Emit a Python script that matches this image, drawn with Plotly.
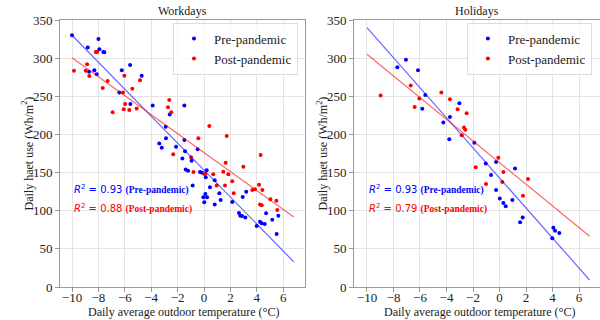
import plotly.graph_objects as go

# ---------------- data ----------------
wd_pre_t = [-10, -8.81, -8.0, -7.93, -7.63, -7.55, -8.71, -8.31, -8.13, -6.23, -5.6, -4.72, -6.42, -5.58,
            -3.89, -2.6, -2.9, -2.88, -3.39, -3.2, -2.12, -1.49, -1.49, -0.48, -1.44, -1.64, -0.94, -1.39,
            -1.21, -0.3, -0.15, 0.2, 0.13, 0.81, -0.86, 0.45, 0.1, 0.23, -0.05, 1.16, 1.26, 0.02, 0.81,
            2.14, 2.93, 3.2, 2.65, 2.75, 2.88, 3.13, 4.24, 4.37, 4.6, 3.99, 4.7, 5.17, 5.63, 5.5]
wd_pre_e = [330, 314, 325, 311.5, 308, 307.6, 282, 284, 279, 284, 291, 277, 255, 240,
            238, 226, 210, 195, 188, 182.6, 184, 238, 192.7, 180.5, 178, 168.5, 165.6, 154,
            152.4, 150.7, 149.8, 153, 144, 140, 133, 130.7, 122, 117.6, 117.6, 123, 114, 111, 108,
            111.4, 118, 125, 97, 93.4, 93, 91, 85.6, 83.5, 82.6, 80, 96.6, 88, 93.4, 69.5]

wd_post_t = [-9.85, -8.86, -8.96, -8.69, -8.2, -8.1, -7.3, -7.67, -6.04, -4.85, -5.43, -6.14, -5.98, -6.08,
             -5.66, -6.92, -5.1, -2.63, -2.73, -2.48, -2.33, 0.4, 1.72, -0.43, -0.98, -0.8, 1.64, 2.98,
             4.29, 0.02, 0.1, 0.7, 1.46, 1.84, 2.14, 0.96, 1.59, 2.25, 3.66, 3.86, 4.17, 4.42, 4.24,
             4.37, 5.03, 5.48, 5.55]
wd_post_e = [283.5, 292, 283.5, 276.5, 308, 308, 270, 261, 277, 271, 260, 255, 240, 233,
             232, 229, 234, 245, 235.5, 229, 174, 211, 198, 195, 170, 150.7, 163, 157.6,
             173, 148, 148, 147.7, 151, 147.7, 138.5, 133, 133, 123, 127, 128, 134, 127, 108,
             107, 115, 113, 101]

hd_pre_t = [-7.06, -7.71, -6.15, -5.6, -5.83, -3.03, -3.74, -4.24, -3.79, -1.9, -1.04, -0.26, -0.64,
            1.17, -0.26, 0.02, 0.29, 0.47, 0.97, 1.75, 1.55, 4.06, 4.19, 4.51, 3.98]
hd_pre_e = [298, 288, 284, 251.6, 233.7, 241, 223, 215.8, 193.6, 189, 162, 164, 146.8,
            155.5, 127, 116, 110, 105.7, 114, 91, 85, 77.7, 73.8, 70.8, 63.8]

hd_post_t = [-8.97, -6.7, -6.05, -6.4, -4.39, -3.74, -3.16, -2.48, -2.68, -2.58, -2.85, -1.8, -1.02,
             -0.09, 0.29, 0.21, 2.15, 1.77]
hd_post_e = [251, 264, 247, 236, 255, 246, 233, 227.6, 209, 206, 199, 157, 135,
             169.5, 150.7, 137.6, 141.5, 119.7]

# linear fits: (intercept, slope)
wd_pre_fit = (153.2, -17.68)
wd_post_fit = (176.2, -12.43)
hd_pre_fit = (143.0, -19.7)
hd_post_fit = (163.0, -14.2)
fit_x = [-10, 6.8]

wd_r2 = ("0.93", "0.88")
hd_r2 = ("0.93", "0.79")

titles = ["Workdays", "Holidays"]
x_label = "Daily average outdoor temperature (°C)"
y_label = "Daily haet use (Wh/m<sup>2</sup>)"
x_ticks = [-10, -8, -6, -4, -2, 0, 2, 4, 6]
y_ticks = [0, 50, 100, 150, 200, 250, 300, 350]

# ---------------- figure ----------------
SERIF = "Liberation Serif, Times New Roman, serif"
SANS = "DejaVu Sans, sans-serif"
BLUE = "blue"
RED = "red"
BLUE_L = "rgba(0,0,255,0.6)"
RED_L = "rgba(255,0,0,0.6)"

fig = go.Figure()

panels = [
    ("x", "y", wd_pre_t, wd_pre_e, wd_post_t, wd_post_e, wd_pre_fit, wd_post_fit, "legend"),
    ("x2", "y2", hd_pre_t, hd_pre_e, hd_post_t, hd_post_e, hd_pre_fit, hd_post_fit, "legend2"),
]
for xa, ya, pt, pe, qt, qe, pfit, qfit, lg in panels:
    fig.add_trace(go.Scatter(x=pt, y=pe, mode="markers", name="Pre-pandemic",
                             marker=dict(color=BLUE, size=4), xaxis=xa, yaxis=ya, legend=lg))
    fig.add_trace(go.Scatter(x=qt, y=qe, mode="markers", name="Post-pandemic",
                             marker=dict(color=RED, size=4), xaxis=xa, yaxis=ya, legend=lg))
    fig.add_trace(go.Scatter(x=fit_x, y=[pfit[0] + pfit[1] * v for v in fit_x], mode="lines",
                             line=dict(color=BLUE_L, width=1.2), showlegend=False,
                             xaxis=xa, yaxis=ya, hoverinfo="skip"))
    fig.add_trace(go.Scatter(x=fit_x, y=[qfit[0] + qfit[1] * v for v in fit_x], mode="lines",
                             line=dict(color=RED_L, width=1.2), showlegend=False,
                             xaxis=xa, yaxis=ya, hoverinfo="skip"))

axis_common = dict(showline=True, linecolor="#9a9a9a", linewidth=1, mirror=True,
                   showgrid=True, gridcolor="#e3e3e3", gridwidth=1, zeroline=False,
                   ticks="outside", ticklen=4, tickcolor="#9a9a9a",
                   tickfont=dict(family=SERIF, size=13, color="#222"))

fig.update_layout(
    width=600, height=320,
    margin=dict(l=60, r=0, t=20, b=33),
    paper_bgcolor="white", plot_bgcolor="white",
    font=dict(family=SERIF, color="#222"),
    xaxis=dict(domain=[0, 0.4537], range=[-10.91, 7.65], tickvals=x_ticks,
               ticklabelstandoff=-6, **axis_common),
    yaxis=dict(domain=[0, 1], range=[0, 350], tickvals=y_ticks, anchor="x", **axis_common),
    xaxis2=dict(domain=[0.5444, 1.0], range=[-10.98, 7.58], tickvals=x_ticks, anchor="y2",
                ticklabelstandoff=-6, **axis_common),
    yaxis2=dict(domain=[0, 1], range=[0, 350], tickvals=y_ticks, anchor="x2", **axis_common),
    legend=dict(x=0.4407, y=0.99, xanchor="right", yanchor="top",
                bgcolor="rgba(255,255,255,0.8)", bordercolor="#dddddd", borderwidth=1,
                font=dict(family=SERIF, size=13, color="#222"), itemwidth=30),
    legend2=dict(x=0.985, y=0.99, xanchor="right", yanchor="top",
                 bgcolor="rgba(255,255,255,0.8)", bordercolor="#dddddd", borderwidth=1,
                 font=dict(family=SERIF, size=13, color="#222"), itemwidth=30),
    showlegend=True,
)

ann = []
# titles
for xp, t in [(0.2269, titles[0]), (0.7722, titles[1])]:
    ann.append(dict(text=t, x=xp, y=1.0, xref="paper", yref="paper", xanchor="center",
                    yanchor="bottom", yshift=0, showarrow=False,
                    font=dict(family=SERIF, size=12, color="#222")))
# x labels
for xp in [0.2296, 0.776]:
    ann.append(dict(text=x_label, x=xp, y=-0.093, xref="paper", yref="paper", xanchor="center",
                    yanchor="middle", showarrow=False, font=dict(family=SERIF, size=12, color="#222")))
# y labels
for xp in [-0.0593, 0.4852]:
    ann.append(dict(text=y_label, x=xp, y=0.5, xref="paper", yref="paper", xanchor="center",
                    yanchor="middle", textangle=-90, showarrow=False,
                    font=dict(family=SERIF, size=12, color="#222")))
# R^2 annotations
def r2_text(val, label):
    return ("<i>R</i><sup>2</sup> = " + val +
            " <span style='font-family:Liberation Serif;font-size:9.5px'><b>(" + label + ")</b></span>")

for xa, ya, r2 in [("x", "y", wd_r2), ("x2", "y2", hd_r2)]:
    ann.append(dict(text=r2_text(r2[0], "Pre-pandemic"), x=-10, y=128, xref=xa, yref=ya,
                    xanchor="left", yanchor="middle", showarrow=False,
                    font=dict(family=SANS, size=10, color=BLUE)))
    ann.append(dict(text=r2_text(r2[1], "Post-pandemic"), x=-10, y=103.5, xref=xa, yref=ya,
                    xanchor="left", yanchor="middle", showarrow=False,
                    font=dict(family=SANS, size=10, color=RED)))

fig.update_layout(annotations=ann)

fig.write_html("out.html", config={"displayModeBar": False},
               post_script="document.body.style.margin='0';document.body.style.padding='0';")
